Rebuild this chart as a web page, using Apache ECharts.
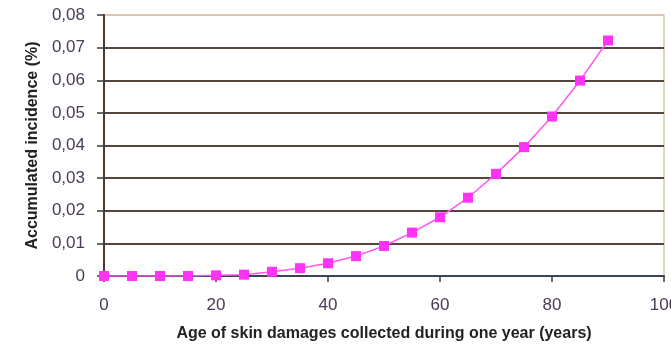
<!DOCTYPE html>
<html>
<head>
<meta charset="utf-8">
<script src="https://cdn.jsdelivr.net/npm/echarts@6/dist/echarts.min.js"></script>
<style>
  html, body { margin: 0; padding: 0; background: #fff; }
  #chart { width: 671px; height: 349px; }
</style>
</head>
<body>
<div id="chart"></div>
<script>
// ages (years) and accumulated incidence (%)
const ages = [0, 5, 10, 15, 20, 25, 30, 35, 40, 45, 50, 55, 60, 65, 70, 75, 80, 85, 90]
const incidence = [0, 0, 0, 0, 0.0002, 0.0004, 0.0013, 0.0024, 0.0039, 0.0061, 0.0092, 0.0133,
    0.018, 0.024, 0.0313, 0.0395, 0.0489, 0.0599, 0.0722]
const xTicks = [0, 20, 40, 60, 80, 100]
const yTicks = [0, 0.01, 0.02, 0.03, 0.04, 0.05, 0.06, 0.07, 0.08]

const chart = echarts.init(document.getElementById('chart'))
const labelColor = '#4a3a55'
const gridColor = '#54463c'

const option = {
    backgroundColor: '#fff',
    animation: false,
    grid: {
        left: 104,
        right: 7,
        top: 15,
        bottom: 73,
        outerBoundsMode: 'none',
        containLabel: false,
        show: true,
        backgroundColor: '#fff',
        borderColor: '#d8c8b0',
        borderWidth: 1.5
    },
    xAxis: {
        type: 'value',
        min: xTicks[0],
        max: xTicks[xTicks.length - 1],
        interval: 20,
        name: 'Age of skin damages collected during one year (years)',
        nameLocation: 'middle',
        nameGap: 50,
        nameTextStyle: {
            fontFamily: 'Liberation Sans',
            fontWeight: 'bold',
            fontSize: 16,
            color: '#222'
        },
        axisLine: { show: true, lineStyle: { color: '#3a4452', width: 2 } },
        axisTick: { show: true, length: 6, lineStyle: { color: '#3a3a3a', width: 1.5 } },
        axisLabel: {
            margin: 21,
            fontFamily: 'Liberation Sans',
            fontSize: 17,
            color: labelColor
        },
        splitLine: { show: false }
    },
    yAxis: {
        type: 'value',
        min: yTicks[0],
        max: yTicks[yTicks.length - 1],
        interval: 0.01,
        name: 'Accumulated incidence (%)',
        nameLocation: 'middle',
        nameGap: 62,
        nameTextStyle: {
            fontFamily: 'Liberation Sans',
            fontWeight: 'bold',
            fontSize: 16,
            color: '#222'
        },
        axisLine: { show: true, lineStyle: { color: '#4a3a2e', width: 2 } },
        axisTick: { show: true, length: 7, lineStyle: { color: '#3a3a3a', width: 1.5 } },
        axisLabel: {
            margin: 19,
            fontFamily: 'Liberation Sans',
            fontSize: 17,
            color: labelColor,
            formatter: v => (v === 0 ? '0' : v.toFixed(2).replace('.', ','))
        },
        splitLine: {
            show: true,
            lineStyle: {
                width: 2,
                color: yTicks.map((t, i) => (i === yTicks.length - 1 ? '#d8c8b0' : gridColor))
            }
        }
    },
    series: [
        {
            type: 'line',
            data: ages.map((a, i) => [a, incidence[i]]),
            symbol: 'rect',
            symbolSize: 10,
            itemStyle: { color: '#ff33f5' },
            lineStyle: { color: '#ff55f5', width: 1.5 },
            z: 5
        }
    ]
}
chart.setOption(option)
</script>
</body>
</html>
